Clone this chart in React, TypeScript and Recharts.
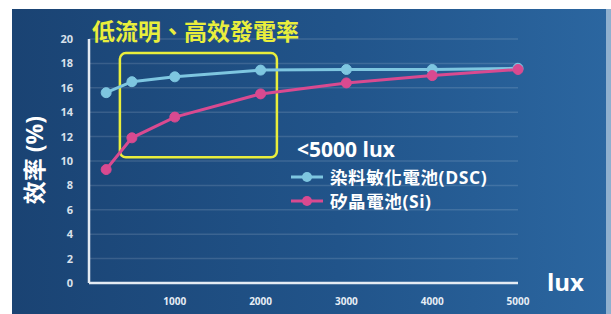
import React from 'react'
import { LineChart, Line, XAxis, YAxis, CartesianGrid, ReferenceArea } from 'recharts'

const LUX = [200, 500, 1000, 2000, 3000, 4000, 5000]
const DSC = [15.6, 16.5, 16.9, 17.45, 17.5, 17.5, 17.6]
const SI = [9.3, 11.9, 13.6, 15.5, 16.4, 17.0, 17.5]

const X_TICKS = [1000, 2000, 3000, 4000, 5000]
const Y_TICKS = [0, 2, 4, 6, 8, 10, 12, 14, 16, 18, 20]

// highlighted low-light region (data coords)
const BOX_X = [360, 2190]
const BOX_Y = [10.3, 18.85]

const SERIES = [
  { key: 'dsc', name: '染料敏化電池(DSC)', color: '#7ec6e0' },
  { key: 'si', name: '矽晶電池(Si)', color: '#d94a90' },
]

const data = LUX.map((lux, i) => ({ lux, dsc: DSC[i], si: SI[i] }))

const FONT = "'Open Sans', 'Noto Sans CJK TC', sans-serif"
const YELLOW = '#e9ee3c'

export default function App() {
  return (
    <div style={{ position: 'absolute', left: 0, top: 0, width: 611, height: 314, background: '#fff', overflow: 'hidden', fontFamily: FONT }}>
      <div
        style={{
          position: 'absolute', left: 12, top: 9, width: 594, height: 305,
          background: 'linear-gradient(90deg, #1a4373 0%, #21548a 55%, #2b66a0 100%)',
        }}
      />
      <div style={{ position: 'absolute', left: 606, top: 9, width: 5, height: 305, background: '#8fb0cf' }} />

      <LineChart
        width={611}
        height={314}
        data={data}
        margin={{ top: 39, right: 93, bottom: 0, left: 59 }}
        style={{ position: 'absolute', left: 0, top: 0 }}
      >
        <CartesianGrid vertical={false} stroke="rgba(255,255,255,0.13)" strokeWidth={1.5} />
        <XAxis
          type="number"
          dataKey="lux"
          domain={[0, 5000]}
          ticks={X_TICKS}
          height={31}
          tickSize={0}
          tickMargin={15}
          tickLine={false}
          axisLine={{ stroke: '#e4ebf3', strokeWidth: 2.5 }}
          tick={{ fill: '#e6edf5', fontSize: 10, fontWeight: 700, fontFamily: FONT }}
        />
        <YAxis
          domain={[0, 20]}
          ticks={Y_TICKS}
          width={30}
          tickSize={0}
          tickMargin={16}
          tickLine={false}
          interval={0}
          axisLine={{ stroke: '#e4ebf3', strokeWidth: 2.5 }}
          tick={{ fill: '#d9e1eb', fontSize: 11, fontWeight: 700, fontFamily: FONT }}
        />
        <ReferenceArea
          x1={BOX_X[0]}
          x2={BOX_X[1]}
          y1={BOX_Y[0]}
          y2={BOX_Y[1]}
          fill="none"
          stroke={YELLOW}
          strokeWidth={2.5}
          radius={6}
          ifOverflow="visible"
        />
        {SERIES.map((s) => (
          <Line
            key={s.key}
            dataKey={s.key}
            stroke={s.color}
            strokeWidth={3}
            dot={{ r: 5, fill: s.color, stroke: s.color, strokeWidth: 1 }}
            activeDot={false}
            isAnimationActive={false}
          />
        ))}
      </LineChart>

      <div style={{ position: 'absolute', left: 92, top: 15, color: YELLOW, fontSize: 23, fontWeight: 700, fontFamily: "'Noto Sans CJK TC', sans-serif", lineHeight: '30px', whiteSpace: 'nowrap' }}>
        低流明、高效發電率
      </div>

      <div
        style={{
          position: 'absolute', left: 34, top: 160, transform: 'translate(-50%, -50%) rotate(-90deg)',
          color: '#fff', fontSize: 23, fontWeight: 700, whiteSpace: 'nowrap', lineHeight: '28px',
        }}
      >
        效率 (%)
      </div>

      <div style={{ position: 'absolute', left: 547, top: 267, color: '#fff', fontSize: 24, fontWeight: 700, lineHeight: '30px' }}>
        lux
      </div>

      <div style={{ position: 'absolute', left: 297, top: 135, color: '#fff', fontSize: 21, fontWeight: 700, lineHeight: '28px', whiteSpace: 'nowrap' }}>
        &lt;5000 lux
      </div>
      <ul style={{ position: 'absolute', left: 290, top: 165, margin: 0, padding: 0, listStyle: 'none' }}>
        {SERIES.map((s) => (
          <li key={s.key} style={{ display: 'flex', alignItems: 'center', height: 24 }}>
            <svg width={34} height={14} style={{ flexShrink: 0 }}>
              <line x1={1} y1={7} x2={33} y2={7} stroke={s.color} strokeWidth={3} />
              <circle cx={17} cy={7} r={5} fill={s.color} />
            </svg>
            <span style={{ marginLeft: 6, color: '#fff', fontSize: 17.5, letterSpacing: 0.6, fontWeight: 700, whiteSpace: 'nowrap', lineHeight: '22px' }}>
              {s.name}
            </span>
          </li>
        ))}
      </ul>
    </div>
  )
}
